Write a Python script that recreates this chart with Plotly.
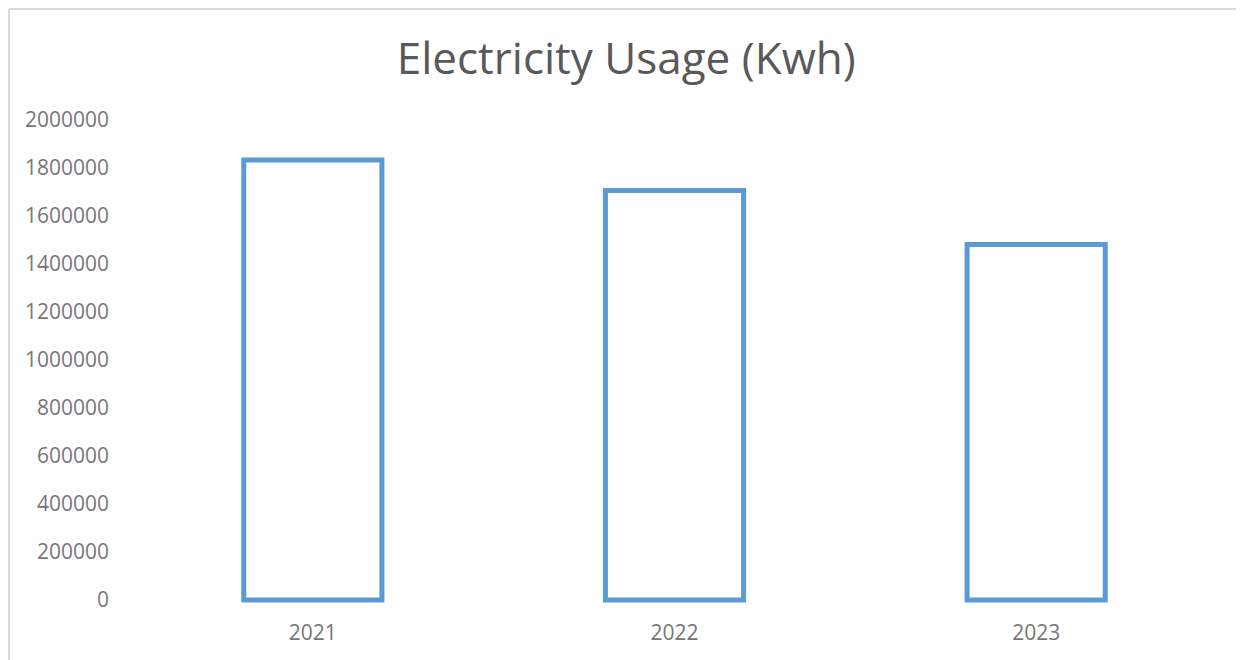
import plotly.graph_objects as go

years = ["2021", "2022", "2023"]
usage_kwh = [1833000, 1706000, 1481000]
y_ticks = [0, 200000, 400000, 600000, 800000, 1000000, 1200000, 1400000, 1600000, 1800000, 2000000]

fig = go.Figure()
fig.add_trace(go.Bar(
    x=years,
    y=usage_kwh,
    marker=dict(color="white", line=dict(color="#5B9BD5", width=5)),
    hoverinfo="x+y",
))

fig.update_layout(
    width=1244,
    height=660,
    paper_bgcolor="white",
    plot_bgcolor="white",
    margin=dict(l=124, r=35, t=112, b=65.12),
    bargap=0.618,
    showlegend=False,
    title=dict(
        text="Electricity Usage (Kwh)",
        x=0.497, xref="container", xanchor="center",
        y=0.924, yref="container", yanchor="middle",
        font=dict(family="Open Sans", size=44, color="#595959"),
    ),
    font=dict(family="Open Sans", color="#767676"),
)

fig.update_xaxes(
    type="category",
    showgrid=False, showline=False, zeroline=False, ticks="",
    tickfont=dict(family="Open Sans", size=21, color="#767676"),
    ticklabelstandoff=15,
)
fig.update_yaxes(
    range=[-12000, 2000000],
    tickvals=y_ticks,
    ticktext=[str(v) for v in y_ticks],
    showgrid=False, showline=False, zeroline=False, ticks="",
    tickfont=dict(family="Open Sans", size=21, color="#767676"),
    ticklabelstandoff=22,
)

# chart-area border (left and top edges visible in the reference)
fig.add_shape(
    type="line", xref="paper", yref="paper",
    x0=-0.1134, x1=-0.1134, y0=-0.3, y1=1.2299,
    line=dict(color="#D9D9D9", width=2), layer="below",
)
fig.add_shape(
    type="line", xref="paper", yref="paper",
    x0=-0.1134, x1=1.1, y0=1.2299, y1=1.2299,
    line=dict(color="#D9D9D9", width=2), layer="below",
)

fig.write_html("out.html")
